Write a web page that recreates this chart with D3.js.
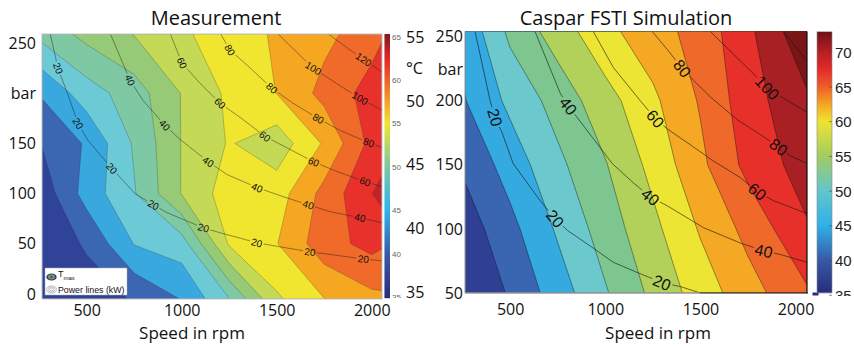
<!DOCTYPE html>
<html lang="en">
<head>
<meta charset="UTF-8">
<title>Measurement vs Caspar FSTI Simulation</title>
<script src="https://d3js.org/d3.v7.min.js"></script>
<style>
  body { margin: 0; background: #fff; }
  svg { display: block; }
  .lbl { font-family: "Open Sans", sans-serif; font-size: 16px; fill: #111; }
  .xname { font-family: "Open Sans", sans-serif; font-size: 17px; fill: #111; }
  .title { font-family: "Open Sans", sans-serif; font-size: 20px; fill: #111; }
  .arial { font-family: "Liberation Sans", Arial, sans-serif; }
</style>
</head>
<body>
<svg id="chart" width="854" height="346"></svg>
<script>
// ---- measurement grid (temperature in degC) ----
const measSpeeds = [265, 500, 750, 1000, 1250, 1500, 1750, 2000, 2054];
const measPressures = [-5, 50, 100, 150, 200, 259];
const measTemps = [
  [35.2, 36.3, 37.7, 40.1, 44.9, 52.1, 54.95, 56.8, 57.0],
  [35.8, 37.8, 42.6, 43.8, 52.8, 54.9, 59.0, 60.8, 60.3],
  [36.0, 41.0, 44.8, 50.1, 53.8, 53.8, 58.3, 62.45, 63.3],
  [37.6, 40.3, 45.3, 50.1, 52.7, 51.0, 55.3, 60.8, 61.0],
  [40.3, 43.8, 46.3, 50.1, 53.0, 55.05, 58.3, 61.0, 61.3],
  [45.8, 48.3, 50.1, 52.1, 53.8, 55.3, 56.8, 59.0, 59.8]
];
const measLevels = [37.5, 40, 42.5, 45, 47.5, 50, 52.5, 55, 57.5, 60, 62.5];

// ---- simulation grid ----
const simSpeeds = [263, 500, 750, 1000, 1250, 1500, 1750, 2060];
const simPressures = [50, 100, 150, 200, 254];
const simTemps = [
  [34.6, 38.4, 42.5, 46.7, 50.7, 54.4, 57.8, 61.6],
  [36.4, 40.1, 44.4, 48.4, 52.2, 56.3, 59.9, 64.7],
  [38.6, 42.3, 46.3, 49.8, 53.9, 58.3, 62.9, 66.4],
  [40.9, 44.7, 48.2, 51.8, 55.4, 59.3, 63.7, 67.5],
  [41.7, 47.7, 51.4, 55.2, 57.7, 60.2, 64.3, 70.5]
];
const simLevels = [38, 41, 44, 47, 50, 53, 56, 59, 62, 65, 68];

// ---- power lines (kW), points as [rpm, bar] ----
const powerKw = [20, 40, 60, 80, 100, 120];
const measPowerLines = [
  [[307,260],[349,225],[412,193],[454,170],[507,153],[633,125],[754,100],[849,89],[923,81],[1112,66],[1202,61],[1397,51],[1517,47],[1674,42],[1796,39],[1954,35],[2054,33]],
  [[623,260],[728,213],[796,193],[912,168],[991,154],[1138,132],[1238,119],[1397,106],[1533,97],[1665,89],[1781,82],[1938,76],[2054,71]],
  [[938,260],[1002,230],[1096,210],[1202,190],[1307,176],[1438,157],[1570,144],[1691,132],[1817,122],[1965,112],[2054,107]],
  [[1202,260],[1254,243],[1344,228],[1475,205],[1586,190],[1717,175],[1833,163],[1981,151],[2054,146]],
  [[1502,260],[1691,225],[1870,203],[1938,195],[2054,183]],
  [[1765,260],[1886,243],[2054,221]]
];
const measPowerLabels = [
  [20,351,225],[20,456,170],[20,632,125],[20,851,89],[20,1114,65.5],[20,1395,51],[20,1675,41.5],[20,1956,34.6],
  [40,728,213],[40,912,168.5],[40,1140,132],[40,1395,105],[40,1666,89],[40,1938,75.5],
  [60,1000,230],[60,1202,190],[60,1438,157],[60,1693,131],[60,1965,112],
  [80,1254,243],[80,1474,205],[80,1719,175],[80,1982,150],
  [100,1693,225],[100,1938,195],
  [120,1956,233]
];
const simPowerLines = [
  [[316,254],[395,200],[421,187],[458,175],[516,151],[658,122],[737,108],[800,99],[937,85],[1042,74],[1168,66],[1300,58],[1395,55],[1500,50]],
  [[631,254],[763,206],[805,196],[852,187],[1037,151],[1147,136],[1237,125],[1326,118],[1516,101],[1710,89],[1831,83],[1921,80],[2060,74]],
  [[937,254],[1042,226],[1184,200],[1263,186],[1326,178],[1463,164],[1568,153],[1710,140],[1800,129],[1884,122],[2060,112]],
  [[1247,254],[1331,239],[1405,225],[1463,216],[1552,203],[1695,185],[1800,175],[1910,164],[1973,157],[2060,151]],
  [[1552,254],[1710,231],[1779,221],[1852,210],[1936,202],[2060,191]],
  [[1936,254],[2060,231]]
];
const simPowerLabels = [
  [20,421,187],[20,737,108],[20,1298,58],
  [40,807,196],[40,1237,125],[40,1833,83],
  [60,1263,186],[60,1798,129],
  [80,1403,225],[80,1912,164],
  [100,1851,210]
];

// ---- ticks ----
const speedTicks = [500, 1000, 1500, 2000];
const measPressureTicks = [0, 50, 100, 150, 200, 250];
const simPressureTicks = [50, 100, 150, 200, 250];
const measBarTicks = [35, 40, 45, 50, 55, 60, 65];
const measBigTicks = [35, 40, 45, 50, 55];
const simBarTicks = [35, 40, 45, 50, 55, 60, 65, 70];

// band colours
const measColors = ["#2f4499","#3b66b2","#38a8df","#6bcad6","#7ec8a3","#96ca76","#c4d955","#f0e52f","#f5a722","#f06b29","#e8312a","#c0232a"];
const simColors = ["#2e3f94","#3965b1","#34aae0","#6bc8cd","#7dc68f","#b2d15a","#ece534","#f5a823","#ef6a2a","#e8302a","#a81f24","#7a1518"];

const svg = d3.select("#chart");
const defs = svg.append("defs");

function snap(pts, px, py) {
  let best = null;
  for (let i = 0; i < pts.length - 1; i++) {
    const [ax, ay] = pts[i], [bx, by] = pts[i + 1];
    const dx = bx - ax, dy = by - ay;
    let t = ((px - ax) * dx + (py - ay) * dy) / (dx * dx + dy * dy);
    t = Math.max(0, Math.min(1, t));
    const qx = ax + t * dx, qy = ay + t * dy;
    const dist = (qx - px) ** 2 + (qy - py) ** 2;
    if (!best || dist < best.dist) best = { x: qx, y: qy, a: Math.atan2(dy, dx) * 180 / Math.PI, dist };
  }
  return best;
}

function drawPanel(o) {
  const x = d3.scaleLinear().domain(o.xDomain).range([o.x0, o.x1]);
  const y = d3.scaleLinear().domain(o.yDomain).range([o.y1, o.y0]);
  const nx = o.speeds.length, ny = o.pressures.length;
  const ix = d3.scaleLinear().domain(d3.range(nx)).range(o.speeds).clamp(true);
  const iy = d3.scaleLinear().domain(d3.range(ny)).range(o.pressures).clamp(true);
  const path = d3.geoPath(d3.geoTransform({
    point(px, py) { this.stream.point(x(ix(px - 0.5)), y(iy(py - 0.5))); }
  }));

  const values = o.temps.flat();
  const thresholds = [d3.min(values) - 1].concat(o.levels);
  const bands = d3.contours().size([nx, ny]).thresholds(thresholds)(values);

  defs.append("clipPath").attr("id", o.id + "-clip")
    .append("rect").attr("x", o.x0).attr("y", o.y0)
    .attr("width", o.x1 - o.x0).attr("height", o.y1 - o.y0);

  const plot = svg.append("g").attr("clip-path", `url(#${o.id}-clip)`);
  plot.selectAll("path.band").data(bands).join("path")
    .attr("class", "band")
    .attr("d", path)
    .attr("fill", (d, i) => o.colors[i])
    .attr("stroke", (d, i) => i === 0 ? "none" : o.bandStroke)
    .attr("stroke-width", 0.6);

  // power lines, with gaps under the labels
  const toPx = pts => pts.map(d => [x(d[0]), y(d[1])]);
  const mask = defs.append("mask").attr("id", o.id + "-mask")
    .attr("maskUnits", "userSpaceOnUse")
    .attr("x", 0).attr("y", 0).attr("width", 854).attr("height", 346);
  mask.append("rect").attr("width", 854).attr("height", 346).attr("fill", "white");

  const placed = o.labels.map(([kw, rpm, p]) => {
    const pts = toPx(o.lines[powerKw.indexOf(kw)]);
    const s = snap(pts, x(rpm), y(p));
    return { kw, x: s.x, y: s.y, a: s.a };
  });
  placed.forEach(d => {
    const w = String(d.kw).length * 0.56 * o.labelSize + 3;
    mask.append("rect")
      .attr("x", -w / 2).attr("y", -o.labelSize * 0.42)
      .attr("width", w).attr("height", o.labelSize * 0.84)
      .attr("fill", "black")
      .attr("transform", `translate(${d.x},${d.y}) rotate(${d.a})`);
  });

  const line = d3.line();
  plot.append("g").attr("mask", `url(#${o.id}-mask)`)
    .selectAll("path").data(o.lines).join("path")
    .attr("d", d => line(toPx(d)))
    .attr("fill", "none")
    .attr("stroke", o.lineStroke)
    .attr("stroke-width", o.lineWidth);

  plot.append("g").selectAll("text").data(placed).join("text")
    .attr("class", "arial")
    .attr("transform", d => `translate(${d.x},${d.y}) rotate(${d.a})`)
    .attr("text-anchor", "middle")
    .attr("dy", "0.36em")
    .attr("font-size", o.labelSize)
    .attr("fill", "#111")
    .text(d => d.kw);

  // axes
  const xAxis = svg.append("g").attr("transform", `translate(0,${o.y1})`)
    .call(d3.axisBottom(x).tickValues(speedTicks).tickSize(0).tickPadding(o.xPad)
      .tickFormat(d3.format("d")));
  xAxis.select(".domain").remove();
  xAxis.selectAll("text").attr("class", "lbl");

  const yAxis = svg.append("g").attr("transform", `translate(${o.x0},0)`)
    .call(d3.axisLeft(y).tickValues(o.yTicks).tickSize(0).tickPadding(o.yPad)
      .tickFormat(v => (o.barAt === v ? "bar" : v)));
  yAxis.select(".domain").remove();
  yAxis.selectAll("text").attr("class", "lbl");

  svg.append("text").attr("class", "xname")
    .attr("x", (o.x0 + o.x1) / 2 + o.nameShift).attr("y", 338.5)
    .attr("text-anchor", "middle").text("Speed in rpm");
  svg.append("text").attr("class", "title")
    .attr("x", o.titleX).attr("y", 25)
    .attr("text-anchor", "middle").text(o.title);

  return { x, y };
}

// ---------- left: measurement ----------
drawPanel({
  id: "meas", title: "Measurement", titleX: 216,
  x0: 42, x1: 382, y0: 34, y1: 299,
  xDomain: [265, 2054], yDomain: [-5, 259],
  speeds: measSpeeds, pressures: measPressures, temps: measTemps,
  levels: measLevels, colors: measColors,
  bandStroke: "rgba(50,50,50,0.45)",
  lines: measPowerLines, labels: measPowerLabels,
  lineStroke: "rgba(30,30,30,0.75)", lineWidth: 0.6, labelSize: 10,
  yTicks: measPressureTicks, barAt: 200, xPad: 6, yPad: 6, nameShift: -20
});
svg.append("rect").attr("x", 42).attr("y", 34).attr("width", 340).attr("height", 265)
  .attr("fill", "none").attr("stroke", "#c4c4c4").attr("stroke-width", 1);

// legend box
const leg = svg.append("g");
leg.append("rect").attr("x", 45).attr("y", 268).attr("width", 82).attr("height", 27)
  .attr("fill", "#fff").attr("stroke", "#aaa").attr("stroke-width", 0.5);
[["#2b3c8f", 5.2, 3.6], ["#5fb04a", 3.4, 2.4], ["#d8262a", 1.6, 1.2]].forEach(([c, rx, ry]) => {
  leg.append("ellipse").attr("cx", 51.5).attr("cy", 277).attr("rx", rx).attr("ry", ry).attr("fill", c);
});
[5.2, 3.6, 2.0].forEach(r => {
  leg.append("ellipse").attr("cx", 51.5).attr("cy", 289.5).attr("rx", r).attr("ry", r * 0.7)
    .attr("fill", "none").attr("stroke", "#b0b0b0").attr("stroke-width", 0.8);
});
const tmax = leg.append("text").attr("class", "arial").attr("x", 58).attr("y", 277).attr("font-size", 9).attr("fill", "#111");
tmax.append("tspan").text("T");
tmax.append("tspan").attr("dy", 3).attr("font-size", 6).text("max");
leg.append("text").attr("class", "arial").attr("x", 58).attr("y", 292.5)
  .attr("font-size", 8.8).attr("fill", "#111").text("Power lines (kW)");

// left colour bar
const measBarColor = d3.scaleLinear()
  .domain([35, 40, 45, 50, 55, 60, 62.5, 65])
  .range(["#262d7c", "#3a5aa8", "#2eb4ec", "#7cc8a0", "#f0e530", "#ef5e28", "#e3282a", "#8a1a1f"]);
const measBarY = d3.scaleLinear().domain([35, 65]).range([297, 36.6]);
const mb = svg.append("g");
d3.range(34, 298).forEach(py => {
  mb.append("rect").attr("x", 384.5).attr("y", py).attr("width", 5.5).attr("height", 1.2)
    .attr("fill", measBarColor(measBarY.invert(py + 0.5)));
});
defs.append("clipPath").attr("id", "mb-clip").append("rect")
  .attr("x", 380).attr("y", 34).attr("width", 30).attr("height", 264);
mb.append("g").attr("clip-path", "url(#mb-clip)")
  .selectAll("text").data(measBarTicks).join("text")
  .attr("class", "arial").attr("x", 392).attr("y", d => measBarY(d) + 3)
  .attr("font-size", 8).attr("fill", "#666").text(d => d);
const bigY = d3.scaleLinear().domain([35, 55]).range([292, 36.7]);
svg.append("g").selectAll("text").data(measBigTicks).join("text")
  .attr("class", "lbl").attr("x", 406).attr("y", d => bigY(d) + 6).text(d => d);
svg.append("text").attr("class", "lbl").attr("x", 406).attr("y", 74).text("°C");

// ---------- right: simulation ----------
drawPanel({
  id: "sim", title: "Caspar FSTI Simulation", titleX: 626,
  x0: 465, x1: 807, y0: 31.5, y1: 293,
  xDomain: [263, 2060], yDomain: [50, 254],
  speeds: simSpeeds, pressures: simPressures, temps: simTemps,
  levels: simLevels, colors: simColors,
  bandStroke: "rgba(20,20,20,0.7)",
  lines: simPowerLines, labels: simPowerLabels,
  lineStroke: "rgba(20,20,20,0.85)", lineWidth: 0.7, labelSize: 16,
  yTicks: simPressureTicks, barAt: null, xPad: 11, yPad: 2, nameShift: 22
});
svg.append("text").attr("class", "lbl").attr("x", 463).attr("y", 75)
  .attr("text-anchor", "end").text("bar");
svg.append("line").attr("x1", 465).attr("x2", 465).attr("y1", 31.5).attr("y2", 293).attr("stroke", "#999");
svg.append("line").attr("x1", 465).attr("x2", 700).attr("y1", 293).attr("y2", 293).attr("stroke", "#999").attr("stroke-width", 1.5);
svg.append("line").attr("x1", 700).attr("x2", 807.5).attr("y1", 293).attr("y2", 293).attr("stroke", "#111").attr("stroke-width", 1.2);
svg.append("line").attr("x1", 807).attr("x2", 807).attr("y1", 31.5).attr("y2", 293.5).attr("stroke", "#111").attr("stroke-width", 1.2);

// right colour bar
const simBarColor = d3.scaleLinear()
  .domain([35, 40, 45, 50, 55, 60, 62.5, 65, 67.5, 70, 72.9])
  .range(["#262a78", "#3858a6", "#2eb0e8", "#62c6cc", "#a0cc62", "#efe332", "#f5a623", "#ef5f28", "#e32b29", "#b81e25", "#6e1216"]);
const simBarY = d3.scaleLinear().domain([35, 70]).range([295.3, 52.3]);
const sb = svg.append("g");
d3.range(32, 293).forEach(py => {
  sb.append("rect").attr("x", 817).attr("y", py).attr("width", 15).attr("height", 1.2)
    .attr("fill", simBarColor(simBarY.invert(py + 0.5)));
});
sb.append("rect").attr("x", 812.5).attr("y", 292.5).attr("width", 6).attr("height", 3).attr("fill", "#2b2f7e");
sb.append("rect").attr("x", 817).attr("y", 31.7).attr("width", 15).attr("height", 261)
  .attr("fill", "none").attr("stroke", "#8a8a8a").attr("stroke-width", 0.6);
defs.append("clipPath").attr("id", "sb-clip").append("rect")
  .attr("x", 810).attr("y", 30).attr("width", 44).attr("height", 266);
const sbt = sb.append("g").attr("clip-path", "url(#sb-clip)");
sbt.selectAll("line.tk").data(simBarTicks).join("line")
  .attr("x1", 829).attr("x2", 832).attr("y1", d => simBarY(d)).attr("y2", d => simBarY(d))
  .attr("stroke", "#444").attr("stroke-width", 0.6);
sbt.selectAll("text").data(simBarTicks).join("text")
  .attr("class", "arial").attr("x", 835).attr("y", d => simBarY(d) + 5.5)
  .attr("font-size", 15).attr("fill", "#222").text(d => d);
</script>
</body>
</html>
